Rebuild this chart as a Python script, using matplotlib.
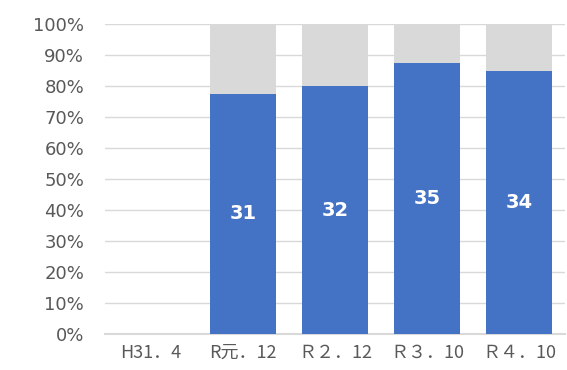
import matplotlib
matplotlib.use("Agg")
import matplotlib.pyplot as plt
from matplotlib.ticker import PercentFormatter
import numpy as np

plt.rcParams['font.family'] = ['Noto Sans CJK JP', 'DejaVu Sans']

categories = ["H31．4", "R元．12", "Ｒ２．12", "Ｒ３．10", "Ｒ４．10"]
yes_counts = [0, 31, 32, 35, 34]
no_counts = [0, 9, 8, 5, 6]

yes = np.array(yes_counts, dtype=float)
no = np.array(no_counts, dtype=float)
tot = yes + no
with np.errstate(invalid='ignore', divide='ignore'):
    yes_p = np.where(tot > 0, yes / tot * 100, 0)
    no_p = np.where(tot > 0, no / tot * 100, 0)

fig = plt.figure(figsize=(5.67, 3.70), dpi=100)
ax = fig.add_axes([105/567, 36/370, 460/567, 310/370])

x = np.arange(len(categories))
w = 0.72
ax.bar(x, yes_p, w, color='#4472c4', zorder=3)
ax.bar(x, no_p, w, bottom=yes_p, color='#d9d9d9', zorder=3)

for xi, v, p in zip(x, yes_counts, yes_p):
    if v > 0:
        ax.text(xi, p / 2, str(v), ha='center', va='center', color='white',
                fontsize=14, fontweight='bold', family='DejaVu Sans', zorder=4)

ax.set_xlim(-0.5, len(categories) - 0.5)
ax.set_ylim(0, 100)
ax.set_yticks(np.arange(0, 101, 10))
ax.yaxis.set_major_formatter(PercentFormatter(decimals=0))
ax.set_xticks(x)
ax.set_xticklabels(categories)
ax.grid(axis='y', color='#d9d9d9', linewidth=1.0, zorder=0)
for s in ['top', 'right', 'left']:
    ax.spines[s].set_visible(False)
ax.spines['bottom'].set_color('#d9d9d9')
ax.spines['bottom'].set_linewidth(1.5)
ax.tick_params(axis='y', length=0, pad=15, labelsize=13, labelcolor='#595959')
ax.tick_params(axis='x', length=0, pad=7, labelsize=13, labelcolor='#595959')
for lab in ax.get_yticklabels():
    lab.set_family('DejaVu Sans')

fig.savefig('out.png', dpi=100)
